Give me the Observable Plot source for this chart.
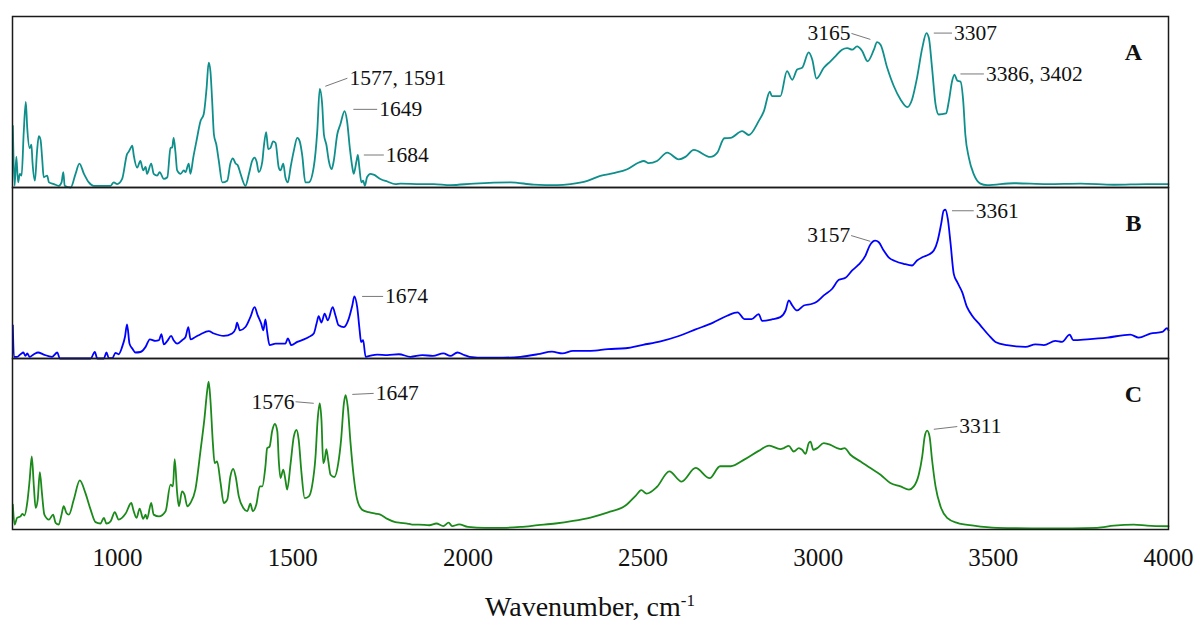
<!DOCTYPE html>
<html><head><meta charset="utf-8">
<script src="https://cdn.jsdelivr.net/npm/d3@7"></script>
<script src="https://cdn.jsdelivr.net/npm/@observablehq/plot@0.6"></script>
<style>
body{margin:0;background:#fff;}
#chart svg{display:block;}
#xlabel{width:1180px;text-align:center;font-family:"Liberation Serif",serif;font-size:28px;line-height:30px;padding-top:17px;color:#111;}
#xlabel sup{font-size:17px;line-height:0;}
</style></head><body>
<div id="chart"></div>
<div id="xlabel">Wavenumber, cm<sup>-1</sup></div>
<script>
const panels = ["A", "B", "C"];
const colors = ["#0e8f8c", "#0000ff", "#1b8a1b"];
const xTicks = [1000, 1500, 2000, 2500, 3000, 3500, 4000];

const spectrumA = [[701,36],[706,1],[711,18],[716,3],[721,8],[726,7],[732,32],[738,50],[742,35],[749,23],[754,25],[757,15],[764,4],[770,21],[775,30],[780,28],[785,16],[789,6],[799,7],[804,3],[818,2],[832,1],[840,3],[845,9],[849,1],[866,0],[880,8],[891,14],[904,8],[918,3],[932,1],[951,1],[980,1],[989,3],[999,2],[1013,5],[1027,19.5],[1032,21],[1037,23],[1042,24.5],[1046,19],[1056,11.6],[1065,15.5],[1073,10],[1080,12],[1084,8],[1096,14],[1103,8],[1113,7],[1120,9],[1132,5],[1142,6],[1151,23],[1156,23.5],[1160,29],[1165,21],[1170,10],[1180,8],[1189,10],[1194,9],[1203,14],[1208,8],[1216,17.5],[1225,27],[1237,39],[1246,43],[1254,58],[1260,73],[1265,68],[1270,50.5],[1275,31],[1282,25],[1289,15.5],[1299,3],[1313,4],[1322,14],[1329,17],[1337,14],[1343,13],[1351,8],[1365,1],[1375,8],[1384,15.5],[1391,17.5],[1397,15],[1403,9],[1413,15],[1417,23],[1424,32.4],[1430,22.5],[1436,23],[1444,27],[1451,26],[1460,11.7],[1465,10],[1473,14],[1479,6],[1486,3],[1494,12],[1503,21.4],[1513,29],[1520,27],[1527,19],[1536,3],[1546,3],[1560,12],[1570,33],[1577,57.7],[1584,48.6],[1589,31],[1596,25],[1603,15.5],[1611,10.7],[1617,15.5],[1627,31],[1636,37],[1648,44.7],[1655,39],[1663,23],[1670,12],[1674,8],[1682,15.5],[1686,19],[1690,12],[1696,3],[1701,4],[1706,1],[1712,6],[1722,8],[1731,7.5],[1750,5],[1770,3.5],[1793,2],[1808,2.3],[1865,2],[1902,2],[1950,1.4],[2017,2.3],[2122,3],[2188,1.7],[2255,1.4],[2293,2],[2341,3.9],[2378,6.8],[2416,8.4],[2455,10.7],[2488,14.6],[2502,15.5],[2516,14.2],[2540,15.5],[2569,20.4],[2602,16.5],[2621,17.9],[2645,22],[2692,17.9],[2712,20.4],[2732,28.8],[2750,29],[2783,33],[2802,30.7],[2830,38.8],[2845,44.7],[2862,56],[2868,53.4],[2892,53.4],[2911,68],[2926,63],[2940,69],[2954,70],[2973,79],[2983,74.8],[2995,63.7],[3016,70],[3035,73.8],[3049,76.7],[3068,80.6],[3083,81.5],[3097,80.6],[3111,82.5],[3125,80],[3141,73.8],[3159,80.6],[3168,85],[3178,83.5],[3197,70],[3216,59.2],[3235,51.5],[3254,47],[3268,51.5],[3282,64],[3297,81.5],[3309,90.3],[3316,87.4],[3325,70],[3335,48.6],[3344,42.7],[3365,43.3],[3373,50.5],[3382,62],[3389,66],[3397,62.5],[3406,62],[3414,50.5],[3420,31],[3430,17.5],[3444,7.8],[3463,2.3],[3482,1.4],[3558,2.5],[3654,2],[3749,2.3],[3844,1.6],[3939,2],[4000,2]];

const spectrumB = [[701,19.4],[704,1],[713,1],[723,2.5],[731,3.5],[737,1.5],[742,3],[749,1],[761,2.5],[773,3.5],[789,2.3],[813,1],[828,3.5],[835,0],[856,0],[923,0],[935,3.8],[942,0],[961,0],[968,3.5],[975,0.2],[985,0.2],[994,3.3],[1003,2.5],[1013,6.8],[1021,12.6],[1027,20],[1034,8.7],[1042,5.8],[1051,3.5],[1065,3.8],[1080,6.8],[1092,11.2],[1108,10.3],[1118,10.7],[1125,14.2],[1132,8.3],[1142,10.3],[1153,13.2],[1160,10.7],[1170,8.7],[1184,10.7],[1194,12.6],[1202,18.4],[1208,11.2],[1222,12.6],[1237,14.2],[1260,16],[1275,14.6],[1303,13.2],[1327,14.6],[1337,17.5],[1341,21],[1349,16.5],[1365,18.4],[1379,24.2],[1391,30],[1400,25.2],[1410,20.4],[1416,16.5],[1422,22.9],[1427,15.5],[1434,7.8],[1451,8.7],[1479,8.7],[1486,11.7],[1496,7.8],[1513,9.7],[1532,11.2],[1546,12.6],[1560,14.6],[1568,20.4],[1574,24.7],[1582,21],[1591,26.2],[1600,22.3],[1614,30],[1622,25.2],[1631,19.4],[1646,18.4],[1660,23.3],[1670,31],[1676,36.3],[1684,30],[1691,16.5],[1695,9.7],[1701,10.7],[1708,1],[1722,1.7],[1741,2.3],[1770,2],[1803,2.5],[1836,1],[1870,2],[1900,1.5],[1930,3],[1950,1.5],[1970,3.5],[1990,2],[2005,1],[2050,0.5],[2100,0.5],[2150,1],[2200,2.5],[2240,4],[2270,3],[2300,4.5],[2350,4.5],[2400,5.5],[2450,6],[2500,8],[2550,10],[2600,13],[2650,17],[2700,21],[2740,25],[2770,27],[2790,23],[2810,23],[2830,26],[2840,22],[2870,23],[2892,24.2],[2907,28.1],[2916,34],[2926,31],[2940,28.1],[2959,31],[2983,32],[2997,33.4],[3016,36.9],[3040,40.8],[3059,46],[3078,47.2],[3097,51.5],[3116,55],[3135,60.2],[3147,66],[3163,68.9],[3173,68],[3187,63.1],[3201,59.2],[3221,56.9],[3244,55.4],[3268,54.4],[3282,57.3],[3297,59.2],[3316,60.8],[3330,63.1],[3341,68.9],[3351,78.7],[3358,86.4],[3363,87],[3370,81.6],[3378,67],[3387,49.5],[3397,44.6],[3411,38.8],[3425,30],[3439,25.2],[3463,19.4],[3487,13.6],[3506,9.7],[3539,7.8],[3592,6.8],[3620,8.3],[3644,7.8],[3677,10.3],[3696,9.7],[3718,14],[3728,10.7],[3768,11.2],[3825,12.2],[3891,14],[3915,12.2],[3948,14.6],[3982,15.5],[3996,17.8],[4000,16.5]];

const spectrumC = [[701,14.6],[706,2.9],[713,6.8],[723,7.7],[728,9.1],[734,8.2],[742,15.5],[749,29.1],[755,42.7],[761,25.2],[766,12.6],[772,17.5],[778,33.6],[784,21.4],[791,8.7],[804,5.8],[816,8.7],[823,3.9],[832,2.9],[840,8.7],[846,13.6],[854,9.7],[861,8.7],[875,17.5],[892,28.7],[908,21.4],[923,11.6],[937,4.3],[951,3.5],[961,6.8],[968,3.5],[980,4.8],[992,10.1],[1003,5.8],[1023,9.3],[1039,15.5],[1046,10.7],[1054,6.8],[1063,12.2],[1073,6.2],[1080,8.7],[1084,6.2],[1096,15.5],[1103,8.7],[1118,7.7],[1137,10.7],[1151,26.2],[1158,25.2],[1163,41.2],[1170,21.4],[1175,13.6],[1184,22.3],[1191,20.4],[1199,13.6],[1208,15.5],[1222,23.3],[1237,46.6],[1248,65],[1256,81.5],[1260,86.4],[1265,75.7],[1272,50.5],[1277,38.8],[1284,39.8],[1294,27.2],[1303,15.5],[1313,17.5],[1322,31],[1330,35.4],[1337,31],[1346,19.4],[1359,12.6],[1370,10.7],[1379,15.1],[1386,10.7],[1396,14.6],[1406,25.2],[1413,25.2],[1422,36.9],[1427,47.6],[1434,48.5],[1441,57.3],[1449,61.7],[1456,57.3],[1460,40.8],[1465,30.1],[1473,35],[1479,29.1],[1484,23.3],[1494,38.8],[1503,54.3],[1511,58.2],[1517,52.4],[1525,33],[1534,18.4],[1546,19.4],[1555,25.2],[1565,42.7],[1571,64],[1577,73.8],[1582,64],[1587,38.8],[1591,40.8],[1596,47],[1601,40.8],[1608,32],[1619,30.7],[1630,38.8],[1638,52.4],[1646,73.8],[1651,78.6],[1657,71.8],[1665,50.5],[1674,31],[1684,17.5],[1698,11.6],[1717,10.1],[1736,9.3],[1750,8.7],[1770,6.2],[1793,4.3],[1808,3.9],[1827,3.5],[1841,2.9],[1860,2.9],[1890,2.5],[1910,3.5],[1930,2],[1945,4],[1955,2],[1975,3],[2000,1.5],[2050,1],[2100,1],[2150,1.5],[2200,2.5],[2250,3.5],[2300,5],[2350,7],[2400,10],[2450,14],[2480,20],[2495,23],[2510,21],[2540,25],[2575,34],[2610,28],[2650,36],[2690,30],[2720,37],[2750,37],[2790,41],[2830,46],[2860,49],[2892,47],[2902,47.6],[2916,48.9],[2930,45.6],[2945,47.6],[2954,46.6],[2964,44.3],[2973,50.5],[2978,51.4],[2986,46.6],[2997,47.6],[3016,50.5],[3035,49.5],[3054,47.6],[3064,47],[3075,47.6],[3092,43.7],[3121,39.8],[3149,35.9],[3178,32],[3206,27.2],[3235,25.2],[3259,23.3],[3273,25.2],[3287,32],[3297,42.7],[3304,54.3],[3311,57.8],[3318,54.3],[3325,40.8],[3335,25.2],[3349,13.6],[3368,6.8],[3397,3.9],[3444,2.3],[3511,1],[3654,0.6],[3796,1],[3844,2.3],[3901,2.9],[3939,2.3],[4000,1.9]];

const annPanel  = ["A","A","A","A","A","A","B","B","B","C","C","C"];
const annText   = ["1577, 1591","1649","1684","3165","3307","3386, 3402","1674","3157","3361","1576","1647","3311"];
const annPeakX  = [1593,1673,1703,3149,3330,3406,1698,3149,3382,1560,1670,3330];
const annPeakY  = [59.2,45.7,19,86.6,90.3,66.4,36.3,68.5,86.4,73.8,79,58.6];
const annLabelX = [1656,1741,1760,3095,3382,3473,1758,3094,3444,1508,1731,3397];
const annLabelY = [63.9,45.7,19,90.1,90.3,66.4,36.3,71.9,86.4,74.7,79.6,60.2];
const annAnchor = ["start","start","start","end","start","start","start","end","start","end","start","start"];

const rows = [];
[spectrumA, spectrumB, spectrumC].forEach((s, i) => s.forEach(([x, y]) => rows.push({panel: panels[i], x, y})));
const anns = annText.map((t, i) => ({panel: annPanel[i], x1: annPeakX[i], y1: annPeakY[i], x2: annLabelX[i], y2: annLabelY[i], text: t, anchor: annAnchor[i]}));
const letters = panels.map(p => ({panel: p, letter: p}));

const plot = Plot.plot({
  width: 1197, height: 575,
  marginLeft: 12, marginRight: 29, marginTop: 15, marginBottom: 45,
  style: {fontFamily: '"Liberation Serif", "Times New Roman", serif', fontSize: "25px", color: "#111", background: "#fff", overflow: "visible"},
  x: {domain: [700, 4000], ticks: xTicks, tickFormat: d3.format("d"), tickSize: 0, tickPadding: 19, label: null},
  y: {domain: [0, 100], axis: null},
  fy: {domain: panels, axis: null, padding: 0},
  color: {domain: panels, range: colors},
  marks: [
    Plot.line(rows, {x: "x", y: "y", fy: "panel", stroke: "panel", strokeWidth: 1.8, curve: "monotone-x"}),
    Plot.link(anns, {x1: "x1", y1: "y1", x2: "x2", y2: "y2", fy: "panel", stroke: "#555", strokeWidth: 0.8}),
    Plot.text(anns.filter(d => d.anchor === "start"), {x: "x2", y: "y2", fy: "panel", text: "text", textAnchor: "start", dx: 2, fontSize: 21.5, fill: "#111"}),
    Plot.text(anns.filter(d => d.anchor === "end"), {x: "x2", y: "y2", fy: "panel", text: "text", textAnchor: "end", dx: -1, fontSize: 21.5, fill: "#111"}),
    Plot.text(letters, {fy: "panel", text: "letter", frameAnchor: "top-right", dx: -35, dy: 26, textAnchor: "middle", fontWeight: "bold", fontSize: 24, fill: "#111"}),
    Plot.frame({stroke: "#1a1a1a", strokeWidth: 1.5})
  ]
});
document.getElementById("chart").appendChild(plot);
</script>
</body></html>
